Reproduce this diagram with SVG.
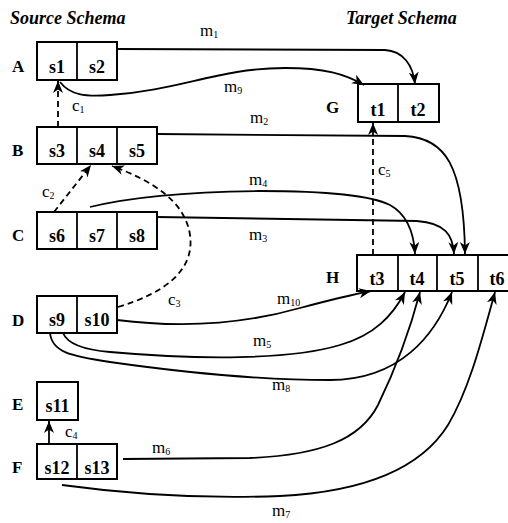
<svg xmlns="http://www.w3.org/2000/svg" width="508" height="523" viewBox="0 0 508 523">
<style>
text{font-family:"Liberation Serif","Times New Roman",serif;fill:#000}
.title{font-size:18px;font-weight:bold;font-style:italic}
.lbl{font-size:17px;font-weight:bold}
.cell{font-size:18px;font-weight:bold;text-anchor:middle}
.ml{font-size:17px}
.sub{font-size:10px}
.box{fill:#fff;stroke:#000;stroke-width:2}
.div{stroke:#000;stroke-width:1.8}
.con{fill:none;stroke:#000;stroke-width:1.8}
.dash{stroke-dasharray:6,4}
</style>
<defs>
<marker id="ah" markerUnits="userSpaceOnUse" markerWidth="14" markerHeight="12" refX="12" refY="5" orient="auto" viewBox="0 0 14 12">
<path d="M0,0 L12,5 L0,10 L3.5,5 z" fill="#000"/>
</marker>
</defs>
<text class="title" x="10" y="24">Source Schema</text>
<text class="title" x="346" y="24">Target Schema</text>

<g id="A"><text class="lbl" x="12" y="72">A</text><rect class="box" x="37" y="42" width="80" height="38"/><line class="div" x1="77" y1="42" x2="77" y2="80"/><text class="cell" x="57" y="73">s1</text><text class="cell" x="97" y="73">s2</text></g>
<g id="B"><text class="lbl" x="12" y="156">B</text><rect class="box" x="37" y="127" width="120" height="37"/><line class="div" x1="77" y1="127" x2="77" y2="164"/><line class="div" x1="117" y1="127" x2="117" y2="164"/><text class="cell" x="57" y="157">s3</text><text class="cell" x="97" y="157">s4</text><text class="cell" x="137" y="157">s5</text></g>
<g id="C"><text class="lbl" x="12" y="241">C</text><rect class="box" x="37" y="212" width="120" height="37"/><line class="div" x1="77" y1="212" x2="77" y2="249"/><line class="div" x1="117" y1="212" x2="117" y2="249"/><text class="cell" x="57" y="242">s6</text><text class="cell" x="97" y="242">s7</text><text class="cell" x="137" y="242">s8</text></g>
<g id="D"><text class="lbl" x="12" y="326">D</text><rect class="box" x="37" y="296" width="80" height="37"/><line class="div" x1="77" y1="296" x2="77" y2="333"/><text class="cell" x="57" y="326">s9</text><text class="cell" x="97" y="326">s10</text></g>
<g id="E"><text class="lbl" x="12" y="410">E</text><rect class="box" x="37" y="382" width="41" height="38"/><text class="cell" x="57.5" y="412">s11</text></g>
<g id="F"><text class="lbl" x="12" y="473">F</text><rect class="box" x="37" y="444" width="80" height="35"/><line class="div" x1="77" y1="444" x2="77" y2="479"/><text class="cell" x="57" y="474">s12</text><text class="cell" x="97" y="474">s13</text></g>
<g id="G"><text class="lbl" x="326" y="113">G</text><rect class="box" x="358" y="84" width="81" height="38"/><line class="div" x1="398" y1="84" x2="398" y2="122"/><text class="cell" x="378" y="116">t1</text><text class="cell" x="418" y="116">t2</text></g>
<g id="H"><text class="lbl" x="326" y="283">H</text><rect class="box" x="357" y="255" width="162" height="36"/><line class="div" x1="398" y1="255" x2="398" y2="291"/><line class="div" x1="437" y1="255" x2="437" y2="291"/><line class="div" x1="478" y1="255" x2="478" y2="291"/><text class="cell" x="377" y="285">t3</text><text class="cell" x="417" y="285">t4</text><text class="cell" x="457" y="285">t5</text><text class="cell" x="497" y="285">t6</text></g>

<g id="connectors">
<path class="con" marker-end="url(#ah)" d="M117,49 L385,50 C403,51 413,65 415,84"/>
<path class="con" marker-end="url(#ah)" d="M60,82 C70,95 85,97 110,95 C180,90 220,68 285,68 C325,68 345,74 364,85"/>
<path class="con" marker-end="url(#ah)" d="M157,134 L405,136 C445,138 464,165 465,254"/>
<path class="con" marker-end="url(#ah)" d="M90,207 C130,197 180,192 260,191 C320,191 370,195 390,205 C408,215 414,235 415,254"/>
<path class="con" marker-end="url(#ah)" d="M157,217 L417,221 C445,223 453,235 454,254"/>
<path class="con" marker-end="url(#ah)" d="M117,320 C180,328 240,325 300,308 C330,300 350,295 371,291"/>
<path class="con" marker-end="url(#ah)" d="M63,333 C68,345 85,350 110,352 C200,360 290,360 340,345 C375,335 393,315 405,292"/>
<path class="con" marker-end="url(#ah)" d="M50,333 C52,352 70,356 110,362 C180,372 260,380 330,380 C400,380 435,335 452,292"/>
<path class="con" marker-end="url(#ah)" d="M123,459 L250,458 C320,455 360,440 378,405 C395,370 410,330 420,292"/>
<path class="con" marker-end="url(#ah)" d="M62,485 C150,497 230,498 280,496 C360,492 420,470 448,425 C470,388 483,335 495,292"/>
<path class="con dash" marker-end="url(#ah)" d="M58,127 L58,81"/>
<path class="con dash" marker-end="url(#ah)" d="M54,212 L91,165"/>
<path class="con dash" marker-end="url(#ah)" d="M118,307 C165,293 195,270 190,235 C185,200 150,180 112,166"/>
<path class="con" marker-end="url(#ah)" d="M49,444 L49,421"/>
<path class="con dash" marker-end="url(#ah)" d="M373,255 L373,123"/>
</g>

<g id="labels">
<text class="ml" x="200" y="36">m<tspan class="sub" dy="2">1</tspan></text>
<text class="ml" x="224" y="92">m<tspan class="sub" dy="2">9</tspan></text>
<text class="ml" x="250" y="123">m<tspan class="sub" dy="2">2</tspan></text>
<text class="ml" x="249" y="185">m<tspan class="sub" dy="2">4</tspan></text>
<text class="ml" x="249" y="240">m<tspan class="sub" dy="2">3</tspan></text>
<text class="ml" x="277" y="304">m<tspan class="sub" dy="2">10</tspan></text>
<text class="ml" x="253" y="346">m<tspan class="sub" dy="2">5</tspan></text>
<text class="ml" x="272" y="390">m<tspan class="sub" dy="2">8</tspan></text>
<text class="ml" x="152" y="453">m<tspan class="sub" dy="2">6</tspan></text>
<text class="ml" x="272" y="516">m<tspan class="sub" dy="2">7</tspan></text>
<text class="ml" x="72" y="111">c<tspan class="sub" dy="2">1</tspan></text>
<text class="ml" x="42" y="197">c<tspan class="sub" dy="2">2</tspan></text>
<text class="ml" x="168" y="305">c<tspan class="sub" dy="2">3</tspan></text>
<text class="ml" x="65" y="437">c<tspan class="sub" dy="2">4</tspan></text>
<text class="ml" x="378" y="175">c<tspan class="sub" dy="2">5</tspan></text>
</g>
</svg>
